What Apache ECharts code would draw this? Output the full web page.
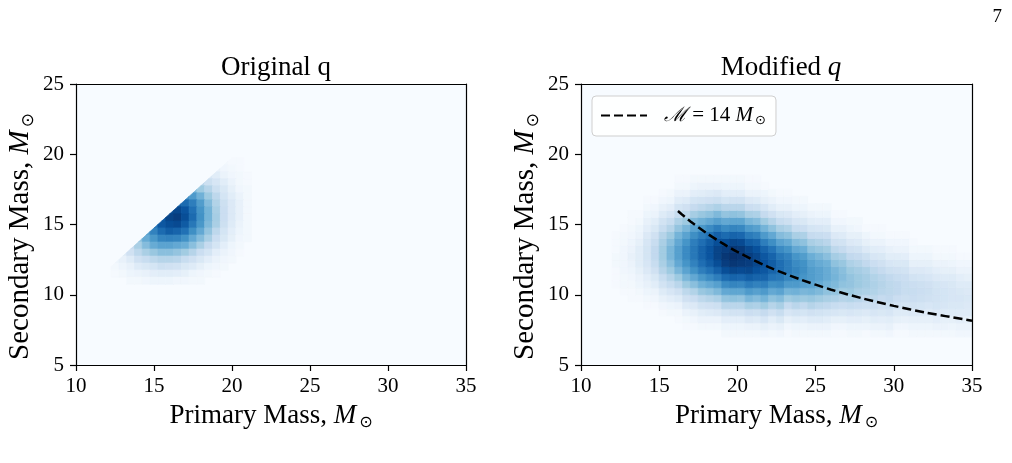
<!DOCTYPE html>
<html><head><meta charset="utf-8">
<script src="https://cdn.jsdelivr.net/npm/echarts@6/dist/echarts.min.js"></script>
<style>html,body{margin:0;padding:0;background:#fff}#c{width:1012px;height:463px}</style>
</head><body><div id="c"></div><script>
// ---------------- data ----------------
const panelTitles = ['Original q', 'Modified q'];
const xRange = [10, 35], yRange = [5, 25], tickStep = 5;

// Left panel ("Original q"): density, 0..8 (Blues levels)
const leftX = [12,12.5,13,13.5,14,14.5,15,15.5,16,16.5,17,17.5,18,18.5,19,19.5,20,20.5,21];
const leftY = [19.5,19,18.5,18,17.5,17,16.5,16,15.5,15,14.5,14,13.5,13,12.5,12,11.5,11];
const leftRows = [
  [0,0,0,0,0,0,0,0,0,0,0,0,0,0,0,.2,.1,.1,0],
  [0,0,0,0,0,0,0,0,0,0,0,0,0,0,.5,.3,.2,.1,0],
  [0,0,0,0,0,0,0,0,0,0,0,0,0,1.2,.9,.5,.3,.2,.1],
  [0,0,0,0,0,0,0,0,0,0,0,0,2.3,1.7,1.3,.9,.5,.2,.1],
  [0,0,0,0,0,0,0,0,0,0,0,3.7,3.0,2.4,1.7,1.2,.7,.3,.2],
  [0,0,0,0,0,0,0,0,0,0,5.3,4.7,3.9,3.0,2.2,1.4,.9,.5,.2],
  [0,0,0,0,0,0,0,0,0,6.6,6.2,5.6,4.6,3.5,2.5,1.7,1.1,.6,.2],
  [0,0,0,0,0,0,0,0,7.2,7.3,6.9,6.0,4.9,3.8,2.7,1.8,1.1,.6,.2],
  [0,0,0,0,0,0,0,6.7,7.4,7.6,7.1,6.2,5.0,3.8,2.8,1.8,1.1,.6,.2],
  [0,0,0,0,0,0,5.9,6.8,7.1,7.2,6.7,5.8,4.8,3.6,2.7,1.7,1.0,.5,.2],
  [0,0,0,0,0,4.6,5.5,6.2,6.6,6.4,6.0,5.1,4.2,3.2,2.2,1.4,.8,.4,.2],
  [0,0,0,0,3.3,4.1,4.8,5.4,5.5,5.4,5.0,4.2,3.5,2.7,1.8,1.2,.7,.3,.2],
  [0,0,0,2.0,2.7,3.5,4.1,4.4,4.4,4.2,4.0,3.4,2.7,2.0,1.4,.8,.4,.2,0],
  [0,0,1.0,1.6,2.2,2.7,3.1,3.4,3.4,3.2,2.9,2.4,1.8,1.4,.8,.5,.3,.1,0],
  [0,.4,.6,1.0,1.6,1.9,2.2,2.4,2.4,2.3,1.9,1.6,1.2,.8,.5,.3,.2,0,0],
  [0,.2,.4,.6,1.0,1.2,1.4,1.7,1.6,1.5,1.2,1.0,.7,.4,.3,.2,0,0,0],
  [0,.1,.2,.4,.5,.6,.8,.9,.9,.8,.7,.4,.3,.2,.1,0,0,0,0],
  [0,0,0,.2,.2,.3,.4,.4,.4,.3,.3,.2,.2,0,0,0,0,0,0]
];
// Edge of the left density (m2 <= m1 - 0.25)
const leftEdgeOffset = 0.25;

// Right panel ("Modified q"): columns of density, rows at rightY
const rightY = [7.25,7.75,8.25,8.75,9.25,9.75,10.25,10.75,11.25,11.75,12.25,12.75,13.25,13.75,14.25,14.75,15.25,15.75,16.25,16.75,17.25,17.75,18.25,18.75];
const rightX = [12.25,12.75,13.25,13.75,14.25,14.75,15.25,15.75,16.25,16.75,17.25,17.75,18.25,18.75,19.25,19.75,20.25,20.75,21.25,21.75,22.25,22.75,23.25,23.75,24.25,24.75,
  25.25,25.75,26.25,26.75,27.25,27.75,28.25,28.75,29.25,29.75,30.25,30.75,31.25,31.75,32.25,32.75,33.25,33.75,34.25,34.75];
const rightCols = [
  [0,0,0,0,0,0,0,.1,.1,.1,.2,.2,.1,.1,.1,0,0,0,0,0,0,0,0,0],
  [0,0,0,0,0,0,.1,.2,.2,.3,.3,.3,.3,.2,.2,.1,0,0,0,0,0,0,0,0],
  [0,0,0,0,0,.1,.1,.2,.3,.4,.5,.6,.5,.4,.3,.2,.1,.1,0,0,0,0,0,0],
  [0,0,0,0,0,.1,.2,.4,.5,.7,.9,.9,.9,.7,.5,.4,.2,.1,0,0,0,0,0,0],
  [0,0,0,0,.1,.2,.4,.6,.8,1.1,1.3,1.4,1.4,1.3,1.1,.8,.6,.4,.2,.1,0,0,0,0],
  [0,0,0,0,.1,.3,.5,.9,1.2,1.6,1.9,2.1,2.1,1.9,1.6,1.2,.9,.5,.3,.1,0,0,0,0],
  [0,0,0,.1,.3,.6,1.0,1.5,1.9,2.4,2.7,2.9,2.9,2.7,2.4,1.9,1.5,1.0,.6,.3,.1,0,0,0],
  [0,0,0,.2,.4,.8,1.3,1.9,2.4,3.0,3.4,3.7,3.7,3.4,3.0,2.4,1.9,1.3,.8,.4,.2,0,0,0],
  [0,0,.1,.2,.5,1.0,1.6,2.3,3.0,3.7,4.2,4.5,4.5,4.2,3.8,3.2,2.6,1.9,1.4,.9,.5,.2,.1,0],
  [0,.1,.2,.5,1.0,1.6,2.2,3.0,3.7,4.4,4.9,5.2,5.2,4.9,4.4,3.7,3.0,2.2,1.6,1.0,.5,.2,.1,0],
  [0,.1,.3,.6,1.1,1.8,2.5,3.4,4.2,5.0,5.5,5.8,5.8,5.6,5.1,4.4,3.6,2.8,2.0,1.4,.8,.4,.2,0],
  [0,.2,.5,.9,1.5,2.2,3.1,3.9,4.8,5.6,6.1,6.4,6.4,6.1,5.6,4.8,3.9,3.1,2.2,1.5,.9,.5,.2,0],
  [0,.2,.5,1.0,1.6,2.4,3.3,4.2,5.2,6.0,6.6,6.9,6.9,6.6,6.0,5.2,4.2,3.3,2.4,1.6,1.0,.5,.2,0],
  [0,.2,.5,1.1,1.7,2.6,3.6,4.5,5.6,6.5,7.1,7.4,7.4,7.1,6.5,5.6,4.5,3.6,2.6,1.7,1.1,.5,.2,0],
  [.2,.4,.8,1.4,2.3,3.2,4.2,5.2,6.2,7.1,7.6,7.8,7.6,7.1,6.2,5.2,4.2,3.2,2.3,1.4,.8,.4,.2,0],
  [.2,.4,.8,1.5,2.3,3.3,4.3,5.4,6.4,7.3,7.8,8.0,7.8,7.3,6.4,5.4,4.3,3.3,2.3,1.5,.8,.4,.2,0],
  [.2,.4,.8,1.5,2.3,3.2,4.3,5.3,6.3,7.2,7.7,7.9,7.7,7.2,6.3,5.3,4.3,3.2,2.3,1.5,.8,.4,.2,0],
  [.2,.5,1.1,1.8,2.7,3.7,4.7,5.7,6.6,7.3,7.6,7.6,7.3,6.6,5.7,4.7,3.7,2.7,1.8,1.1,.5,.2,.1,0],
  [.2,.5,1.0,1.7,2.6,3.5,4.5,5.5,6.4,7.0,7.3,7.3,7.0,6.4,5.5,4.5,3.5,2.6,1.7,1.0,.5,.2,.1,0],
  [.3,.7,1.3,2.0,2.9,3.8,4.7,5.6,6.4,6.8,7.0,6.8,6.4,5.6,4.7,3.8,2.9,2.0,1.3,.7,.4,.1,0,0],
  [.2,.5,.9,1.6,2.4,3.3,4.2,5.1,5.9,6.4,6.6,6.4,5.9,5.1,4.2,3.3,2.4,1.6,.9,.5,.2,0,0,0],
  [.3,.6,1.2,1.9,2.7,3.5,4.4,5.2,5.8,6.1,6.1,5.8,5.2,4.4,3.5,2.7,1.9,1.2,.6,.3,.1,0,0,0],
  [.1,.3,.7,1.3,2.0,2.9,3.8,4.7,5.4,5.7,5.7,5.5,4.9,4.1,3.3,2.5,1.7,1.1,.6,.3,.1,0,0,0],
  [.2,.4,.9,1.5,2.3,3.1,3.9,4.7,5.2,5.4,5.2,4.9,4.2,3.5,2.7,1.9,1.3,.8,.4,.2,0,0,0,0],
  [.2,.4,.8,1.4,2.1,3.0,3.7,4.5,4.9,5.1,5.0,4.6,4.0,3.3,2.6,1.8,1.2,.7,.4,.2,0,0,0,0],
  [.2,.5,1.0,1.6,2.4,3.1,3.8,4.4,4.6,4.6,4.4,4.0,3.3,2.7,2.0,1.4,.9,.5,.2,0,0,0,0,0],
  [.2,.5,1.0,1.5,2.2,2.9,3.6,4.1,4.4,4.4,4.1,3.7,3.1,2.5,1.9,1.3,.8,.4,.2,0,0,0,0,0],
  [.2,.5,.9,1.4,2.1,2.7,3.3,3.8,4.1,4.1,3.9,3.4,2.9,2.3,1.8,1.2,.8,.4,.2,0,0,0,0,0],
  [.1,.3,.7,1.3,1.9,2.6,3.2,3.6,3.8,3.7,3.3,2.8,2.2,1.6,1.1,.6,.3,.1,0,0,0,0,0,0],
  [.1,.3,.7,1.2,1.8,2.4,2.9,3.3,3.5,3.4,3.1,2.6,2.0,1.5,1.0,.6,.3,.1,0,0,0,0,0,0],
  [.2,.4,.8,1.3,1.9,2.5,3.0,3.2,3.2,3.0,2.6,2.1,1.6,1.1,.7,.4,.2,0,0,0,0,0,0,0],
  [.2,.4,.8,1.2,1.8,2.3,2.7,3.0,3.0,2.8,2.4,2.0,1.5,1.0,.7,.3,.2,0,0,0,0,0,0,0],
  [.1,.4,.7,1.1,1.7,2.1,2.6,2.8,2.8,2.6,2.1,1.7,1.1,.7,.4,.1,0,0,0,0,0,0,0,0],
  [.2,.5,.9,1.3,1.8,2.2,2.5,2.6,2.5,2.2,1.8,1.3,.9,.5,.2,.1,0,0,0,0,0,0,0,0],
  [.2,.5,.8,1.2,1.6,2.0,2.3,2.4,2.3,2.0,1.6,1.2,.8,.5,.2,.1,0,0,0,0,0,0,0,0],
  [.3,.6,.9,1.3,1.7,2.1,2.2,2.2,2.1,1.7,1.3,.9,.6,.3,.1,0,0,0,0,0,0,0,0,0],
  [.1,.3,.7,1.0,1.5,1.8,2.1,2.1,1.9,1.6,1.2,.9,.5,.3,.1,0,0,0,0,0,0,0,0,0],
  [.1,.3,.6,1.0,1.4,1.7,1.9,1.9,1.8,1.5,1.2,.8,.5,.3,.1,0,0,0,0,0,0,0,0,0],
  [.2,.4,.7,1.1,1.5,1.8,1.9,1.8,1.5,1.1,.7,.4,.2,.1,0,0,0,0,0,0,0,0,0,0],
  [.2,.4,.7,1.1,1.4,1.7,1.8,1.7,1.4,1.1,.7,.4,.2,0,0,0,0,0,0,0,0,0,0,0],
  [.2,.4,.7,1.0,1.3,1.6,1.7,1.6,1.3,1.0,.7,.4,.2,0,0,0,0,0,0,0,0,0,0,0],
  [.2,.5,.8,1.1,1.4,1.5,1.5,1.4,1.1,.8,.5,.2,.1,0,0,0,0,0,0,0,0,0,0,0],
  [.2,.5,.7,1.0,1.3,1.4,1.4,1.3,1.0,.7,.5,.2,.1,0,0,0,0,0,0,0,0,0,0,0],
  [.2,.4,.7,1.0,1.2,1.3,1.3,1.2,1.0,.7,.4,.2,.1,0,0,0,0,0,0,0,0,0,0,0],
  [.3,.5,.8,1.0,1.2,1.3,1.2,1.0,.8,.5,.3,.1,0,0,0,0,0,0,0,0,0,0,0,0],
  [.3,.5,.7,1.0,1.1,1.2,1.1,1.0,.7,.5,.3,.1,0,0,0,0,0,0,0,0,0,0,0,0]
];

// Chirp-mass curve (M = 14 Msun)
const chirpX = [16.2,16.5,17,18,19,20,22,24,26,28,30,32,35];
const chirpY = [15.96,15.67,15.22,14.41,13.69,13.05,11.97,11.1,10.36,9.74,9.21,8.74,8.15];

// ---------------- build ----------------
const BLUES = ['#f7fbff','#deebf7','#c6dbef','#9ecae1','#6baed6','#4292c6','#2171b5','#08519c','#08306b'];
const F = "'Liberation Serif','DejaVu Serif',serif";

const leftData = [];
leftY.forEach((y, i) => leftRows[i].forEach((v, j) => { if (v > 0) leftData.push([leftX[j], y, v]); }));
const rightData = [];
rightX.forEach((x, j) => rightCols[j].forEach((v, k) => { if (v > 0) rightData.push([x, rightY[k], v]); }));
const chirpData = chirpX.map((x, i) => [x, chirpY[i]]);

// keep the part of a polygon (data coords) where x - y >= c
function clipPoly(pts, c) {
  if (c === null) return pts;
  const out = [];
  for (let i = 0; i < pts.length; i++) {
    const a = pts[i], b = pts[(i + 1) % pts.length];
    const fa = a[0] - a[1] - c, fb = b[0] - b[1] - c;
    if (fa >= 0) out.push(a);
    if ((fa >= 0) !== (fb >= 0)) {
      const t = fa / (fa - fb);
      out.push([a[0] + t * (b[0] - a[0]), a[1] + t * (b[1] - a[1])]);
    }
  }
  return out;
}
function cells(w, h, edge) {
  return function (params, api) {
    const x = api.value(0), y = api.value(1);
    const poly = clipPoly([[x - w/2, y - h/2], [x + w/2, y - h/2], [x + w/2, y + h/2], [x - w/2, y + h/2]], edge);
    if (poly.length < 3) return null;
    const col = api.visual('color');
    return { type: 'polygon', shape: { points: poly.map(p => api.coord(p)) },
      style: { fill: col, stroke: col, lineWidth: 0.8 } };
  };
}

const richName = (fs) => ({
  a: { fontFamily: F, fontSize: fs, color: '#000' },
  m: { fontFamily: F, fontStyle: 'italic', fontSize: fs, color: '#000' },
  s: { fontFamily: "'DejaVu Sans',sans-serif", fontSize: Math.round(fs * 0.6), color: '#000', padding: [Math.round(fs * 0.55), 0, 0, 3] }
});
const nameX = '{a|Primary Mass, }{m|M}{s|⊙}';
const nameY = '{a|Secondary Mass, }{m|M}{s|⊙}';

function xAx(g) {
  return { type: 'value', gridIndex: g, min: xRange[0], max: xRange[1], interval: tickStep, z: 10,
    name: nameX, nameLocation: 'middle', nameGap: 35, nameTextStyle: { rich: richName(27) },
    axisLine: { show: true, onZero: false, lineStyle: { color: '#000', width: 1.2 } },
    axisTick: { show: true, length: 6, lineStyle: { color: '#000', width: 1.2 } },
    axisLabel: { color: '#000', fontFamily: F, fontSize: 21, margin: 11 },
    splitLine: { show: false } };
}
function yAx(g) {
  return { type: 'value', gridIndex: g, min: yRange[0], max: yRange[1], interval: tickStep, z: 10,
    name: nameY, nameLocation: 'middle', nameGap: 39,
    nameTextStyle: { rich: richName(29), padding: [0, 24, 0, 0] },
    axisLine: { show: true, onZero: false, lineStyle: { color: '#000', width: 1.2 } },
    axisTick: { show: true, length: 6, lineStyle: { color: '#000', width: 1.2 } },
    axisLabel: { color: '#000', fontFamily: F, fontSize: 21, margin: 12 },
    splitLine: { show: false } };
}
function frameX(g) {
  return { type: 'value', gridIndex: g, min: xRange[0], max: xRange[1], position: 'top', z: 10,
    axisLine: { show: true, onZero: false, lineStyle: { color: '#000', width: 1.2 } },
    axisTick: { show: false }, axisLabel: { show: false }, splitLine: { show: false } };
}
function frameY(g) {
  return { type: 'value', gridIndex: g, min: yRange[0], max: yRange[1], position: 'right', z: 10,
    axisLine: { show: true, onZero: false, lineStyle: { color: '#000', width: 1.2 } },
    axisTick: { show: false }, axisLabel: { show: false }, splitLine: { show: false } };
}

const titleStyle = { fontFamily: F, fontSize: 27, fontWeight: 'normal', color: '#000' };
const chart = echarts.init(document.getElementById('c'), null, { renderer: 'canvas' });
chart.setOption({
  animation: false,
  backgroundColor: '#ffffff',
  title: [
    { text: panelTitles[0], left: 271, top: 49, textAlign: 'center', textStyle: titleStyle },
    { text: '{n|Modified }{q|q}', left: 776, top: 49, textAlign: 'center',
      textStyle: Object.assign({}, titleStyle, { rich: {
        n: { fontFamily: F, fontSize: 27, fontWeight: 'normal', color: '#000' },
        q: { fontFamily: F, fontSize: 27, fontWeight: 'normal', fontStyle: 'italic', color: '#000' } } }) },
    { text: '7', right: 5, top: 3, textStyle: { fontFamily: F, fontSize: 19, fontWeight: 'normal', color: '#000' } }
  ],
  grid: [
    { left: 76, top: 84, width: 390, height: 281, show: true, backgroundColor: BLUES[0], borderWidth: 0 },
    { left: 581, top: 84, width: 391, height: 281, show: true, backgroundColor: BLUES[0], borderWidth: 0 }
  ],
  xAxis: [xAx(0), xAx(1), frameX(0), frameX(1)],
  yAxis: [yAx(0), yAx(1), frameY(0), frameY(1)],
  visualMap: [{ type: 'continuous', show: false, min: 0, max: 8, dimension: 2,
    seriesIndex: [0, 1], inRange: { color: BLUES } }],
  legend: {
    data: ['chirp'], left: 592, top: 96, itemWidth: 46, itemHeight: 14, itemGap: 16,
    backgroundColor: 'rgba(255,255,255,0.85)', borderColor: '#cfcfcf', borderWidth: 1, borderRadius: 4,
    padding: [9, 10, 9, 8],
    itemStyle: { opacity: 0 },
    formatter: () => '{c|ℳ}{e| = 14 }{m|M}{s|⊙}',
    textStyle: { rich: {
      c: { fontFamily: "'DejaVu Serif',serif", fontStyle: 'italic', fontSize: 20, color: '#000', padding: [0, 0, 0, 12] },
      e: { fontFamily: F, fontSize: 21, color: '#000' },
      m: { fontFamily: F, fontStyle: 'italic', fontSize: 21, color: '#000' },
      s: { fontFamily: "'DejaVu Sans',sans-serif", fontSize: 13, color: '#000', padding: [10, 0, 0, 2] } } }
  },
  series: [
    { type: 'custom', name: 'orig', xAxisIndex: 0, yAxisIndex: 0, data: leftData, clip: true, silent: true,
      encode: { x: 0, y: 1 }, renderItem: cells(0.5, 0.5, leftEdgeOffset) },
    { type: 'custom', name: 'mod', xAxisIndex: 1, yAxisIndex: 1, data: rightData, clip: true, silent: true,
      encode: { x: 0, y: 1 }, renderItem: cells(0.5, 0.5, null) },
    { type: 'line', name: 'chirp', xAxisIndex: 1, yAxisIndex: 1, data: chirpData, smooth: 0.3,
      symbol: 'none', z: 5, lineStyle: { color: '#000', width: 2.5, type: [9, 4] },
      itemStyle: { color: '#000' } }
  ]
});
</script></body></html>
